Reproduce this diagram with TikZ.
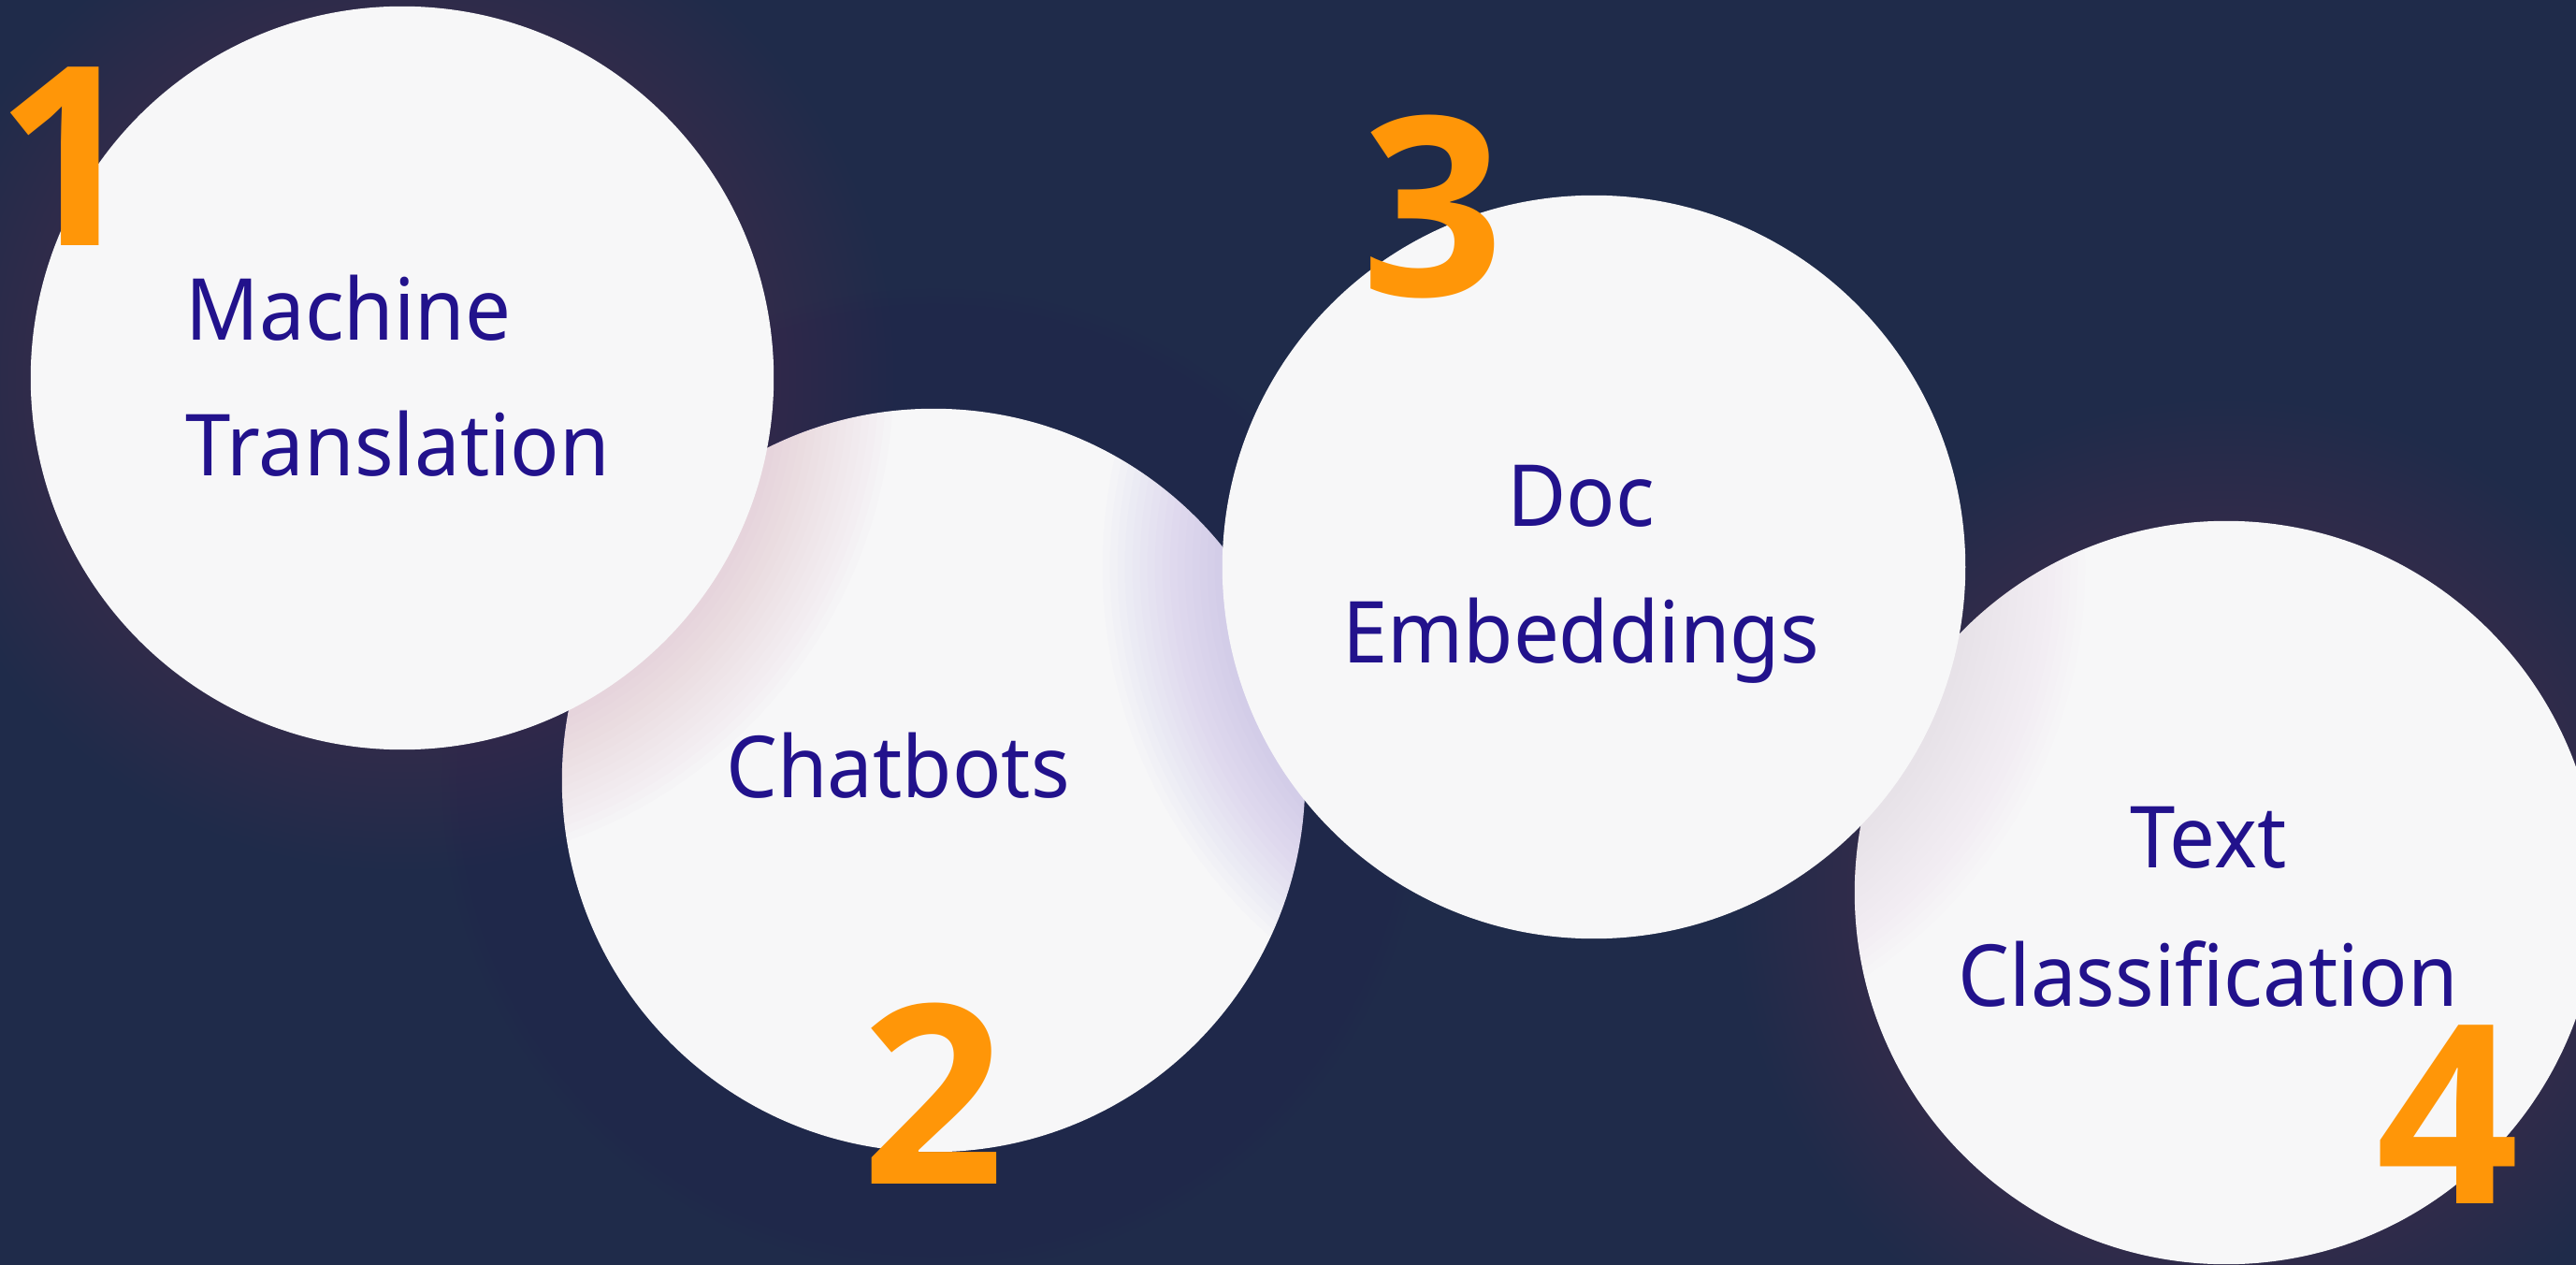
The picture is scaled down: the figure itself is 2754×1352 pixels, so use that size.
\documentclass[tikz,border=0pt]{standalone}
\usepackage{fontspec}
\newfontfamily\lblfont[FakeStretch=0.95]{Noto Sans}
\newfontfamily\numfont{Open Sans}
\definecolor{bgnavy}{RGB}{31,43,74}
\definecolor{discfill}{RGB}{247,247,248}
\definecolor{inkblue}{RGB}{34,18,140}
\definecolor{numorange}{RGB}{255,150,8}
\definecolor{glowpink}{RGB}{160,70,140}
\definecolor{glowlav}{RGB}{110,90,210}
\definecolor{glowrose}{RGB}{200,110,140}
\definecolor{glowblue}{RGB}{40,40,140}
\tikzset{
  disc/.style={circle, fill=discfill, inner sep=0pt, minimum size=7.94cm},
  lbl/.style={text=inkblue, inner sep=0pt, font=\lblfont\fontsize{26}{31}\selectfont},
  num/.style={text=numorange, inner sep=0pt, font=\numfont\bfseries\fontsize{76}{80}\selectfont},
}
\newcommand{\glowring}[3]{% coordinate, colour, opacity
  \foreach \k in {1,...,16}{\fill[#2, opacity=#3] (#1) circle ({3.97cm+\k*0.08cm});}}
\begin{document}
\begin{tikzpicture}[x=0.01cm, y=-0.01cm]
\useasboundingbox (0,0) rectangle (2754,1352);
\fill[bgnavy] (0,0) rectangle (2754,1352);
\coordinate (p1) at (430,404);
\coordinate (p2) at (998,834);
\coordinate (p3) at (1704,606);
\coordinate (p4) at (2380,954);
% circle 4
\glowring{p4}{glowpink}{0.012}
\node[disc] (c4) at (p4) {};
% circle 2
\glowring{p2}{glowblue}{0.006}
\node[disc] (c2) at (p2) {};
% circle 1 (its shadow falls on the background and on circle 2)
\glowring{p1}{glowpink}{0.01}
\node[disc] (c1) at (p1) {};
% shadow of circle 3 on circles 2 and 4
\begin{scope}
  \clip (p2) circle (3.97cm);
  \glowring{p3}{glowlav}{0.014}
\end{scope}
\begin{scope}
  \clip (p4) circle (3.97cm);
  \glowring{p3}{glowrose}{0.008}
\end{scope}
% circle 3
\node[disc] (c3) at (p3) {};
% labels
\node[lbl, anchor=base west] (t1a) at (198,364) {Machine};
\node[lbl, anchor=base west] (t1b) at (198,509) {Translation};
\node[lbl, anchor=base] (t2) at (960,852) {Chatbots};
\node[lbl, anchor=base] (t3a) at (1690,562) {Doc};
\node[lbl, anchor=base] (t3b) at (1690,708) {Embeddings};
\node[lbl, anchor=base] (t4a) at (2361,927) {Text};
\node[lbl, anchor=base] (t4b) at (2361,1075) {Classification};
% numbers
\node[num, anchor=base] (n1) at (72,263) {1};
\node[num, anchor=base] (n2) at (998,1265) {2};
\node[num, anchor=base] (n3) at (1532,317) {3};
\node[num, anchor=base] (n4) at (2617,1286) {4};
\end{tikzpicture}
\end{document}
